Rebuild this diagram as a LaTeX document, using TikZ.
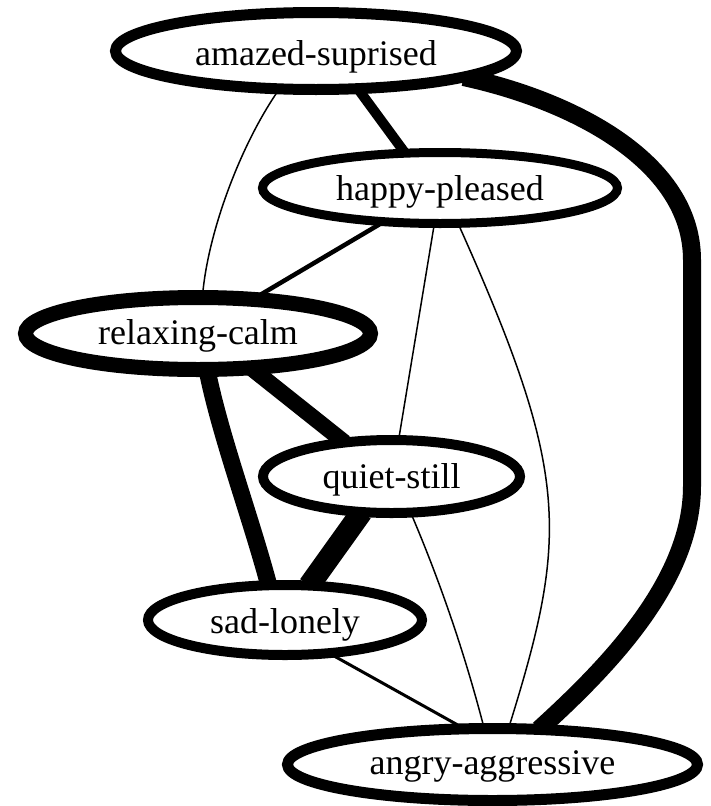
\documentclass[tikz,border=0pt]{standalone}
\usepackage{fontspec}
\setmainfont{Liberation Serif}
\usetikzlibrary{shapes.geometric,backgrounds}
\begin{document}
\begin{tikzpicture}[x=1pt,y=-1pt,
  emo/.style={ellipse, draw=black, fill=white, inner sep=0pt, outer sep=0pt,
    font=\fontsize{36}{40}\selectfont},
  hair/.style={line width=1.5pt},
  link/.style={draw=black}]
\useasboundingbox (0,0) rectangle (711,806);
\node[emo, line width=11pt, minimum width=401pt, minimum height=77pt, text height=30pt, text depth=2pt] (A) at (316,51) {amazed-suprised};
\node[emo, line width=9pt, minimum width=355pt, minimum height=71pt, text height=28pt, text depth=4pt] (H) at (440,188) {happy-pleased};
\node[emo, line width=15pt, minimum width=345pt, minimum height=72pt, text height=26.5pt, text depth=5.5pt] (R) at (198,333.5) {relaxing-calm};
\node[emo, line width=10pt, minimum width=257pt, minimum height=73pt, text height=27.5pt, text depth=4.5pt] (Q) at (391.5,476.5) {quiet-still};
\node[emo, line width=10pt, minimum width=274pt, minimum height=70pt, text height=29pt, text depth=3pt] (S) at (285,620) {sad-lonely};
\node[emo, line width=11pt, minimum width=410pt, minimum height=72pt, text height=25.5pt, text depth=6.5pt] (G) at (492.5,764.5) {angry-aggressive};
\coordinate (gtop) at (692,260);
\coordinate (gbot) at (692,486);
\begin{pgfonlayer}{background}
\fill[white] (0,0) rectangle (711,806);
\draw[link, hair] (A.-134) .. controls (240,145) and (207,235) .. (R.83);
\draw[link, line width=10pt] (A.-42) -- (H.135);
\draw[link, line width=4.5pt] (H.-149) -- (R.32);
\draw[link, hair] (H.-99) -- (Q.79);
\draw[link, hair] (H.-63) .. controls (571,475) and (568.5,536) .. (G.66);
\draw[link, line width=16pt] (R.-33) -- (Q.144);
\draw[link, line width=17pt] (R.-76) .. controls (220,435) and (250,515) .. (S.115);
\draw[link, line width=22pt] (Q.-130) -- (S.55);
\draw[link, hair] (Q.-62) .. controls (440.6,582.7) and (465.1,654.6) .. (G.103);
\draw[link, line width=3pt] (S.-37) -- (G.128);
\draw[link, line width=18pt] (A.-10) .. controls (570,100) and (692,160) .. (gtop) -- (gbot) .. controls (692,580) and (610,665) .. (G.37);
\end{pgfonlayer}
\end{tikzpicture}
\end{document}
